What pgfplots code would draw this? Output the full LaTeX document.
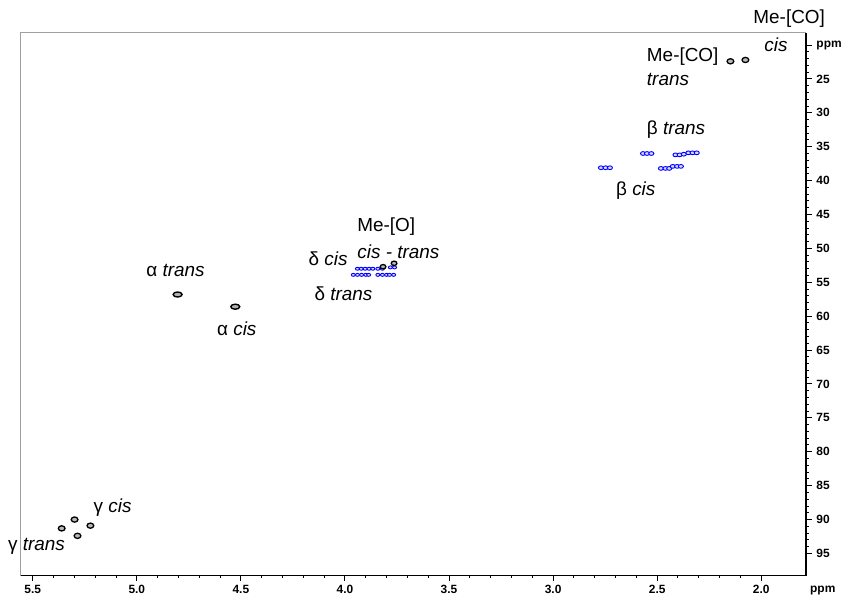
\documentclass[border=0pt]{standalone}
\usepackage{pgfplots}
\pgfplotsset{compat=1.18}
\usepackage{fontspec}
\setmainfont{Liberation Sans}

% peak styles: dark contours and blue multiplet contours
\pgfplotsset{
  blackpeak/.style={only marks, mark=*, mark size=2.6pt,
    mark options={draw=black, fill=gray!55, line width=1.3pt, xscale=1.3}},
  bigpeak/.style={only marks, mark=*, mark size=3pt,
    mark options={draw=black, fill=gray!60, line width=1.4pt, xscale=1.5, yscale=0.85}},
  bluepeak/.style={only marks, mark=*, mark size=1.9pt,
    mark options={draw=blue, fill=blue!15, line width=0.9pt, xscale=1.35}},
}

\begin{document}
\begin{tikzpicture}[x=1pt,y=1pt]
\path (0,0) rectangle (845,602);
\begin{axis}[
  at={(21pt,24pt)}, anchor=south west,
  scale only axis, width=789pt, height=545pt,
  xmin=1.785, xmax=5.557, ymin=18.2, ymax=98.2,
  x dir=reverse, y dir=reverse,
  axis line style={gray!75, line width=1pt},
  xtick={2.0,2.5,3.0,3.5,4.0,4.5,5.0,5.5},
  xticklabels={2.0,2.5,3.0,3.5,4.0,4.5,5.0,5.5},
  minor x tick num=4,
  ytick={20,25,30,35,40,45,50,55,60,65,70,75,80,85,90,95},
  yticklabels={ppm,25,30,35,40,45,50,55,60,65,70,75,80,85,90,95},
  minor y tick num=4,
  xtick pos=left, ytick pos=right,
  xticklabel pos=left, yticklabel pos=right,
  tick align=outside,
  major tick length=6pt, minor tick length=3pt,
  tick style={black, line width=1pt},
  ticklabel style={font=\fontsize{12}{14}\selectfont\bfseries},
  xticklabel style={yshift=-1pt},
  yticklabel style={xshift=1pt},
  /pgf/number format/assume math mode=true,
  clip=false,
]
% bottom and right edges in black
\draw[black, line width=1.2pt] (rel axis cs:0,0) -- (rel axis cs:1,0) -- (rel axis cs:1,1);

% Me-[CO]
\addplot[blackpeak] coordinates {(2.148,22.4) (2.076,22.2)};
% alpha
\addplot[bigpeak] coordinates {(4.804,56.8) (4.527,58.6)};
% gamma
\addplot[blackpeak] coordinates {(5.361,91.3) (5.299,90.0) (5.223,90.9) (5.285,92.4)};

% beta multiplets
\addplot[bluepeak] coordinates {
  (2.568,36.0) (2.549,36.0) (2.528,36.0)
  (2.412,36.2) (2.392,36.2) (2.372,36.1)
  (2.350,35.9) (2.330,35.9) (2.310,35.9)
  (2.770,38.1) (2.748,38.1) (2.727,38.1)
  (2.482,38.2) (2.460,38.2) (2.442,38.2)
  (2.425,37.9) (2.404,37.9) (2.386,37.9)
};
% delta / Me-[O] multiplets
\addplot[bluepeak, mark size=1.5pt] coordinates {
  (3.940,53.0) (3.922,53.0) (3.903,53.0) (3.884,53.0) (3.866,53.0)
  (3.960,53.9) (3.940,53.9) (3.920,53.9) (3.900,53.9) (3.886,53.9)
  (3.842,53.0) (3.820,53.0)
  (3.842,53.9) (3.820,53.9) (3.800,53.9)
  (3.782,52.8) (3.762,52.8)
  (3.786,53.9) (3.766,53.9)
};
% Me-[O]
\addplot[blackpeak, mark size=2.2pt] coordinates {(3.817,52.7) (3.764,52.2)};
\end{axis}

% annotations
\begin{scope}[every node/.style={anchor=west, inner sep=0pt, font=\fontsize{19}{22}\selectfont}]
\node at (757,583) {Me-[CO]};
\node at (768,557) {\itshape cis};
\node at (650,545) {Me-[CO]};
\node at (650,522) {\itshape trans};
\node at (650,472) {β \itshape trans};
\node at (619,410) {β \itshape cis};
\node at (359,374) {Me-[O]};
\node at (359,349) {\itshape cis - trans};
\node at (310,342) {δ \itshape cis};
\node at (316,307) {δ \itshape trans};
\node at (147,330) {α \itshape trans};
\node at (218,272) {α \itshape cis};
\node at (94,92) {γ \itshape cis};
\node at (8,53) {γ \itshape trans};
\end{scope}
\node[anchor=west, inner sep=0pt, font=\fontsize{12}{14}\selectfont\bfseries] at (814,9) {ppm};
\end{tikzpicture}
\end{document}
